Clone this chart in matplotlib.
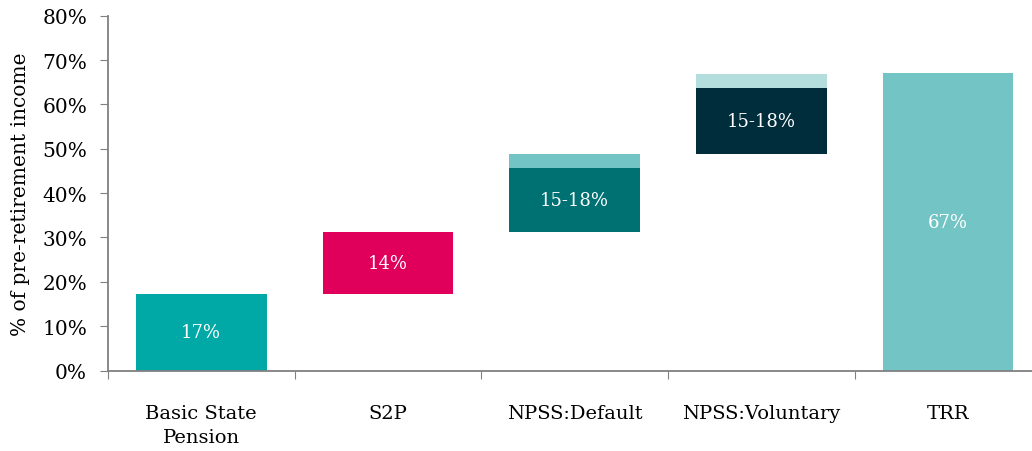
import matplotlib
matplotlib.use("Agg")
import matplotlib.pyplot as plt
from matplotlib.ticker import FuncFormatter

categories = ["Basic State\nPension", "S2P", "NPSS:Default", "NPSS:Voluntary", "TRR"]
# main segments: bottoms and heights (% of pre-retirement income)
main_bottom = [0, 17.2, 31.3, 48.9, 0]
main_height = [17.2, 14.1, 14.4, 14.7, 67.0]
main_colors = ["#00A9A6", "#E0005B", "#007173", "#002D3C", "#73C5C5"]
# upper range segments (the extra to 18%)
extra_height = [0, 0, 3.2, 3.3, 0]
extra_colors = ["#73C5C5", "#73C5C5", "#73C5C5", "#B3DEDD", "#73C5C5"]
bar_labels = ["17%", "14%", "15-18%", "15-18%", "67%"]
yticks = [0, 10, 20, 30, 40, 50, 60, 70, 80]

plt.rcParams['font.family'] = ['DejaVu Serif']
fig = plt.figure(figsize=(10.32, 4.52), dpi=100)
ax = fig.add_axes([0.1045, 0.178, 0.8955, 0.785])

x = list(range(len(categories)))
ax.bar(x, main_height, bottom=main_bottom, width=0.7, color=main_colors)
tops = [b + h for b, h in zip(main_bottom, main_height)]
ax.bar(x, extra_height, bottom=tops, width=0.7, color=extra_colors)
for xi, b, h, lab in zip(x, main_bottom, main_height, bar_labels):
    ax.text(xi, b + h / 2, lab, ha="center", va="center", color="white", fontsize=13)

ax.set_xlim(-0.5, 4.45)
ax.set_ylim(0, 80)
ax.set_yticks(yticks)
ax.yaxis.set_major_formatter(FuncFormatter(lambda v, p: f"{int(v)}%"))
ax.set_xticks([i - 0.5 for i in range(5)])
ax.set_xticklabels([])
ax.set_xticks(x, minor=True)
ax.set_xticklabels(categories, minor=True, fontsize=14, linespacing=1.45)
ax.tick_params(axis="x", which="minor", length=0, pad=24)
ax.tick_params(axis="x", which="major", length=6, color="#808080")
ax.tick_params(axis="y", length=6, color="#808080", labelsize=14.5, pad=9)
ax.set_ylabel("% of pre-retirement income", fontsize=14.5, labelpad=9)

for s in ["top", "right"]:
    ax.spines[s].set_visible(False)
for s in ["left", "bottom"]:
    ax.spines[s].set_color("#808080")
    ax.spines[s].set_linewidth(1.3)

fig.savefig("out.png", dpi=100)
